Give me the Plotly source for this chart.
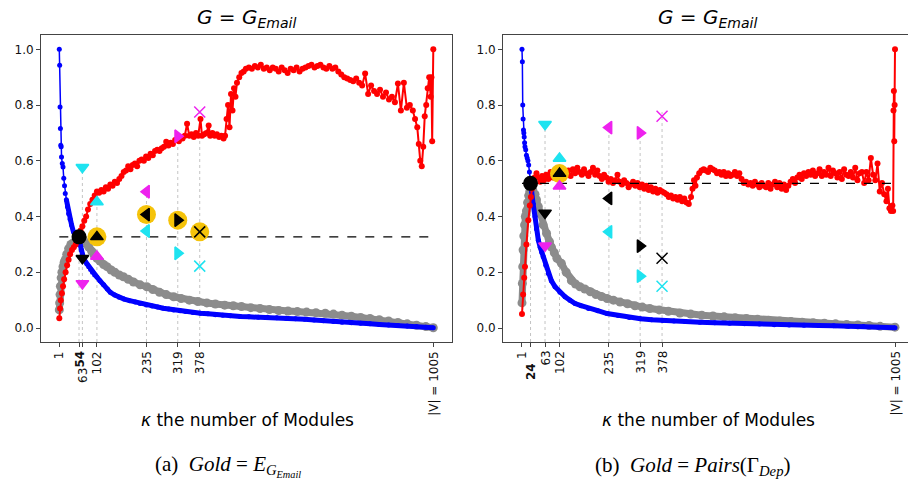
import plotly.graph_objects as go

W, H = 908, 487

# ---------------- data ----------------
ticks_a = [1, 54, 63, 102, 235, 319, 378, 1005]
ticklabels_a = ['1', '<b>54</b>', '63', '102', '235', '319', '378', '|V| = 1005']
ticks_b = [1, 24, 63, 102, 235, 319, 378, 1005]
ticklabels_b = ['1', '<b>24</b>', '63', '102', '235', '319', '378', '|V| = 1005']
yticks = [0.0, 0.2, 0.4, 0.6, 0.8, 1.0]

best_k_a, best_v_a = 54, 0.327
best_k_b, best_v_b = 24, 0.519

method_k = [63, 102, 235, 319, 378]
method_symbols = ['triangle-down', 'triangle-up', 'triangle-left', 'triangle-right', 'x-thin-open']

a_black = [0.25, 0.327, 0.407, 0.387, 0.345]
a_cyan = [0.577, 0.452, 0.348, 0.268, 0.222]
a_magenta = [0.16, 0.257, 0.489, 0.688, 0.775]
a_gold = [False, True, True, True, True]

b_black = [0.413, 0.554, 0.465, 0.294, 0.25]
b_cyan = [0.731, 0.608, 0.345, 0.186, 0.15]
b_magenta = [0.295, 0.509, 0.719, 0.70, 0.76]
b_gold = [False, True, False, False, False]

a_blue_k = [1, 2, 3, 4, 5, 6, 7, 9, 11, 13,
            15, 17, 20, 23, 26, 30, 34, 39, 44, 48,
            54, 57, 60, 63, 66, 70, 75, 80, 85, 90,
            96, 102, 110, 120, 130, 138, 150, 162, 175, 190,
            205, 218, 235, 250, 265, 280, 295, 308, 325, 340,
            360, 380, 400, 420, 440, 460, 487, 510, 535, 560,
            585, 610, 635, 660, 685, 710, 737, 760, 785, 810,
            835, 860, 885, 910, 935, 960, 985, 1005]
a_blue_v = [1.0, .943, .793, .716, .656, .65, .614, .59, .578, .537,
            .51, .483, .46, .435, .41, .39, .37, .345, .338, .333,
            .327, .30, .28, .265, .25, .24, .23, .22, .21, .20,
            .19, .183, .17, .155, .14, .128, .118, .11, .104, .098,
            .093, .088, .083, .079, .075, .071, .068, .065, .062, .059,
            .056, .053, .051, .048, .046, .044, .041, .040, .039, .039,
            .037, .035, .033, .031, .029, .026, .023, .021, .019, .017,
            .015, .013, .011, .009, .007, .005, .003, .001]

a_gray_k = [1, 2, 3, 4, 6, 8, 11, 14, 17, 21,
            26, 32, 38, 45, 52, 60, 66, 72, 80, 88,
            95, 102, 110, 120, 129, 140, 150, 162, 173, 186,
            200, 218, 236, 252, 270, 288, 308, 328, 350, 373,
            397, 420, 445, 468, 490, 515, 540, 565, 590, 615,
            640, 665, 690, 715, 737, 760, 785, 810, 835, 860,
            885, 910, 935, 960, 985, 1005]
a_gray_v = [.065, .09, .12, .15, .18, .20, .22, .235, .245, .265,
            .285, .30, .305, .31, .315, .318, .315, .305, .29, .275,
            .26, .25, .24, .228, .22, .208, .20, .19, .184, .175,
            .165, .155, .148, .138, .128, .12, .112, .106, .10, .095,
            .09, .086, .082, .08, .077, .073, .07, .066, .063, .061,
            .059, .057, .055, .053, .05, .046, .042, .038, .034, .03,
            .025, .02, .015, .01, .005, .001]

a_red_k = [1, 3, 5, 8, 11, 14, 18, 22, 26, 30,
           35, 40, 45, 50, 54, 58, 63, 68, 73, 78,
           84, 90, 96, 102, 108, 114, 120, 126, 132, 138,
           144, 150, 156, 162, 168, 174, 180, 186, 192, 198,
           204, 210, 216, 222, 228, 234, 240, 246, 252, 258,
           264, 270, 276, 282, 288, 294, 300, 306, 312, 318,
           322, 326, 332, 338, 344, 350, 356, 362, 368, 374,
           380, 384, 390, 396, 402, 406, 412, 418, 424, 430,
           436, 442, 446, 450, 454, 458, 462, 466, 470, 474,
           478, 484, 490, 496, 502, 510, 518, 526, 534, 542,
           550, 558, 566, 574, 582, 590, 598, 606, 614, 622,
           630, 638, 646, 654, 662, 670, 678, 686, 694, 702,
           710, 718, 726, 734, 742, 750, 758, 766, 774, 782,
           790, 798, 806, 814, 822, 830, 838, 846, 854, 862,
           870, 878, 886, 894, 902, 910, 918, 926, 934, 942,
           950, 956, 962, 966, 970, 974, 978, 982, 986, 990,
           994, 998, 1000, 1002, 1005]
a_red_v = [.035, .07, .10, .125, .15, .175, .20, .225, .245, .265,
           .28, .29, .30, .315, .327, .35, .365, .385, .40, .425,
           .445, .46, .475, .49, .485, .495, .49, .505, .50, .515,
           .51, .525, .52, .535, .545, .56, .565, .58, .57, .585,
           .59, .58, .60, .605, .60, .615, .61, .625, .62, .635,
           .64, .635, .645, .65, .668, .655, .665, .66, .675, .68,
           .67, .685, .68, .69, .733, .69, .695, .685, .70, .69,
           .75, .69, .695, .70, .727, .69, .70, .69, .695, .685,
           .69, .68, .69, .75, .80, .72, .84, .78, .86, .83,
           .88, .90, .915, .92, .93, .935, .93, .94, .935, .945,
           .93, .935, .925, .935, .93, .92, .935, .925, .915, .93,
           .925, .935, .92, .93, .935, .94, .945, .935, .94, .945,
           .935, .93, .94, .93, .935, .92, .91, .90, .895, .89,
           .885, .895, .88, .87, .913, .84, .87, .85, .84, .855,
           .83, .845, .82, .83, .81, .877, .78, .88, .79, .80,
           .78, .75, .72, .66, .60, .58, .65, .76, .80, .86,
           .90, .83, .90, .67, 1.0]

b_blue_k = [1, 2, 3, 4, 5, 6, 7, 8, 9, 11,
            13, 15, 17, 19, 21, 23, 24, 27, 31, 36,
            40, 45, 50, 54, 58, 65, 72, 80, 90, 103,
            117, 130, 144, 160, 180, 205, 230, 260, 290, 320,
            350, 380, 410, 440, 480, 520, 560, 600, 640, 680,
            720, 760, 800, 840, 880, 920, 960, 1005]
b_blue_v = [1.0, .955, .80, .75, .71, .70, .685, .665, .65, .64,
            .62, .61, .60, .585, .56, .535, .519, .49, .445, .40,
            .355, .315, .29, .272, .256, .225, .196, .17, .148, .128,
            .112, .10, .088, .08, .07, .062, .052, .045, .038, .033,
            .03, .027, .025, .023, .021, .019, .017, .015, .014, .012,
            .011, .01, .009, .008, .006, .005, .003, .001]

b_gray_k = [1, 2, 3, 4, 6, 8, 10, 13, 16, 19,
            22, 25, 30, 36, 40, 45, 50, 58, 67, 75,
            80, 88, 95, 107, 120, 134, 145, 157, 170, 185,
            200, 215, 230, 247, 265, 285, 305, 325, 345, 370,
            395, 426, 455, 485, 515, 545, 575, 605, 635, 665,
            695, 725, 755, 785, 815, 845, 875, 905, 935, 965,
            1005]
b_gray_v = [.09, .16, .22, .28, .33, .37, .40, .42, .45, .475,
            .49, .495, .495, .48, .46, .435, .41, .37, .34, .31,
            .29, .27, .25, .232, .20, .17, .158, .148, .14, .13,
            .12, .113, .106, .10, .093, .087, .08, .075, .07, .065,
            .06, .054, .05, .046, .043, .04, .037, .034, .031, .028,
            .025, .023, .021, .019, .017, .015, .013, .011, .009, .006,
            .003]

b_red_k = [1, 4, 7, 9, 13, 18, 22, 25, 28, 31,
           35, 40, 45, 50, 55, 60, 66, 72, 78, 84,
           90, 96, 102, 108, 114, 120, 126, 132, 138, 144,
           150, 156, 162, 168, 174, 180, 186, 192, 198, 204,
           210, 216, 222, 228, 234, 240, 246, 252, 258, 264,
           270, 276, 282, 288, 294, 300, 306, 312, 318, 324,
           330, 336, 342, 348, 354, 360, 366, 372, 378, 384,
           390, 396, 402, 408, 414, 420, 426, 432, 438, 444,
           450, 456, 460, 464, 468, 472, 478, 484, 490, 496,
           502, 508, 514, 520, 526, 532, 538, 544, 550, 556,
           562, 568, 574, 580, 586, 592, 598, 604, 610, 616,
           622, 628, 634, 640, 646, 652, 658, 664, 670, 676,
           682, 688, 694, 700, 706, 712, 718, 724, 730, 736,
           742, 748, 754, 760, 766, 772, 778, 784, 790, 796,
           802, 808, 814, 820, 826, 832, 838, 844, 850, 856,
           862, 868, 874, 880, 886, 892, 898, 904, 910, 916,
           922, 928, 934, 940, 946, 952, 958, 964, 970, 976,
           982, 986, 990, 994, 998, 1000, 1001, 1002, 1003, 1004,
           1005]
b_red_v = [.05, .12, .18, .22, .30, .387, .44, .47, .50, .52,
           .54, .555, .54, .525, .545, .53, .55, .535, .56, .54,
           .555, .565, .55, .535, .545, .555, .565, .545, .57, .555,
           .575, .56, .55, .57, .555, .545, .56, .575, .55, .565,
           .545, .535, .55, .54, .525, .535, .52, .53, .55, .525,
           .515, .53, .52, .505, .515, .525, .51, .52, .505, .515,
           .50, .51, .495, .505, .49, .50, .485, .495, .49, .485,
           .48, .47, .475, .465, .47, .46, .47, .455, .465, .45,
           .445, .47, .50, .53, .51, .54, .555, .565, .57, .565,
           .56, .575, .57, .565, .555, .56, .55, .56, .545, .555,
           .545, .55, .56, .545, .555, .535, .52, .525, .515, .52,
           .51, .525, .515, .505, .52, .51, .505, .52, .50, .515,
           .525, .505, .52, .50, .515, .495, .51, .525, .535, .52,
           .54, .55, .535, .555, .545, .56, .55, .565, .545, .555,
           .57, .545, .56, .55, .575, .545, .565, .555, .54, .56,
           .535, .57, .55, .545, .56, .54, .575, .53, .555, .56,
           .52, .56, .53, .61, .55, .53, .59, .49, .52, .48,
           .455, .50, .43, .42, .44, .42, .78, .85, .67, .80,
           1.0]

# ---------------- styling ----------------
BLUE = '#0000ff'
RED = '#ff0000'
GRAY = 'rgb(140,140,140)'
CYAN = '#1ee3f0'
MAGENTA = '#ee22ee'
GOLD = '#f5c30a'
FONT = 'DejaVu Sans'

Y0, Y1 = -0.0502, 1.0513

fig = go.Figure()


def add_panel(xr, yr, bk, bv, gk, gv, rk, rv, best_k, best_v,
              black, cyan, magenta, gold, head_n):
    # vertical dotted guide lines
    vx, vy = [best_k, best_k, None], [Y0, best_v, None]
    for i, k in enumerate(method_k):
        top = max(black[i], cyan[i], magenta[i]) + 0.015
        vx += [k, k, None]
        vy += [Y0, top, None]
    fig.add_trace(go.Scatter(x=vx, y=vy, mode='lines', xaxis=xr, yaxis=yr,
                             line=dict(color='#c4c4c4', width=1, dash='dot'),
                             hoverinfo='skip'))
    # gray series
    fig.add_trace(go.Scatter(x=gk, y=gv, mode='lines+markers', xaxis=xr, yaxis=yr,
                             line=dict(color=GRAY, width=7),
                             marker=dict(color=GRAY, size=9)))
    # blue series (thin head, dense body)
    fig.add_trace(go.Scatter(x=bk, y=bv, mode='lines+markers', xaxis=xr, yaxis=yr,
                             line=dict(color=BLUE, width=1.5),
                             marker=dict(color=BLUE, size=5)))
    fig.add_trace(go.Scatter(x=bk[head_n:], y=bv[head_n:], mode='lines', xaxis=xr, yaxis=yr,
                             line=dict(color=BLUE, width=5)))
    # red series
    fig.add_trace(go.Scatter(x=rk, y=rv, mode='lines+markers', xaxis=xr, yaxis=yr,
                             line=dict(color=RED, width=2),
                             marker=dict(color=RED, size=6)))
    # dashed reference line
    fig.add_trace(go.Scatter(x=[1, 1005], y=[best_v, best_v], mode='lines',
                             xaxis=xr, yaxis=yr,
                             line=dict(color='black', width=1.1, dash='dash')))
    # gold halos
    gxs = [k for k, g in zip(method_k, gold) if g]
    gys = [v for v, g in zip(black, gold) if g]
    fig.add_trace(go.Scatter(x=gxs, y=gys, mode='markers', xaxis=xr, yaxis=yr,
                             marker=dict(color=GOLD, size=19)))
    # best point
    fig.add_trace(go.Scatter(x=[best_k], y=[best_v], mode='markers', xaxis=xr, yaxis=yr,
                             marker=dict(color='black', size=15)))
    # method markers
    for vals, col in ((cyan, CYAN), (magenta, MAGENTA), (black, 'black')):
        fig.add_trace(go.Scatter(
            x=method_k, y=vals, mode='markers', xaxis=xr, yaxis=yr,
            marker=dict(color=col, size=11, symbol=method_symbols,
                        line=dict(color=col, width=1.5))))


add_panel('x', 'y', a_blue_k, a_blue_v, a_gray_k, a_gray_v, a_red_k, a_red_v,
          best_k_a, best_v_a, a_black, a_cyan, a_magenta, a_gold, 12)
add_panel('x2', 'y2', b_blue_k, b_blue_v, b_gray_k, b_gray_v, b_red_k, b_red_v,
          best_k_b, best_v_b, b_black, b_cyan, b_magenta, b_gold, 15)

ydom = [145 / H, 452 / H]
axis_common = dict(showgrid=False, zeroline=False, showline=True, linecolor='#444',
                   linewidth=1, ticks='outside', ticklen=4, tickcolor='#444')
fig.update_layout(
    width=W, height=H, margin=dict(l=0, r=0, t=0, b=0),
    paper_bgcolor='white', plot_bgcolor='white', showlegend=False,
    xaxis=dict(domain=[41 / W, 452 / W], range=[-48.1, 1055.2], anchor='y',
               tickvals=ticks_a, showticklabels=False, mirror=True, **axis_common),
    yaxis=dict(domain=ydom, range=[Y0, Y1], anchor='x', tickvals=yticks,
               tickformat='.1f', mirror=True,
               tickfont=dict(family=FONT, size=12, color='#111'), **axis_common),
    xaxis2=dict(domain=[503 / W, 1.0], range=[-50.1, 1040], anchor='y2',
                tickvals=ticks_b, showticklabels=False, mirror=True, **axis_common),
    yaxis2=dict(domain=ydom, range=[Y0, Y1], anchor='x2', tickvals=yticks,
                tickformat='.1f', mirror=False,
                tickfont=dict(family=FONT, size=12, color='#111'), **axis_common),
)

ann = []
# rotated tick labels
for xr, ticks, labels, shifted, shift_px in (('x', ticks_a, ticklabels_a, 63, 17),
                                             ('x2', ticks_b, ticklabels_b, 24, 12)):
    for k, lab in zip(ticks, labels):
        top_px = 349 + (shift_px if k == shifted else 0)
        ann.append(dict(x=k, xref=xr, y=1 - top_px / H, yref='paper', text=lab,
                        showarrow=False, textangle=-90, xanchor='center', yanchor='top',
                        font=dict(family=FONT, size=12, color='#111')))

title_txt = '<i>G</i> = <i>G<sub>Email</sub></i>'
for cx in (246, 707):
    ann.append(dict(x=cx / W, xref='paper', y=1 - 18 / H, yref='paper', text=title_txt,
                    showarrow=False, xanchor='center', yanchor='middle',
                    font=dict(family=FONT, size=20, color='black')))
    ann.append(dict(x=(cx + 1) / W, xref='paper', y=1 - 420 / H, yref='paper',
                    text='<i>κ</i> the number of Modules', showarrow=False,
                    xanchor='center', yanchor='middle',
                    font=dict(family=FONT, size=17, color='black')))

ann.append(dict(x=228 / W, xref='paper', y=1 - 466 / H, yref='paper',
                text='(a)  <i>Gold</i> = <i>E</i><sub><i>G</i><sub><i>Email</i></sub></sub>',
                showarrow=False, xanchor='center', yanchor='middle',
                font=dict(family='Liberation Serif', size=21, color='black')))
ann.append(dict(x=692 / W, xref='paper', y=1 - 466 / H, yref='paper',
                text='(b)  <i>Gold</i> = <i>Pairs</i>(Γ<sub><i>Dep</i></sub>)',
                showarrow=False, xanchor='center', yanchor='middle',
                font=dict(family='Liberation Serif', size=21, color='black')))
fig.update_layout(annotations=ann)

fig.write_html('out.html', config={'displayModeBar': False},
               post_script="document.body.style.margin='0';document.body.style.padding='0';")
